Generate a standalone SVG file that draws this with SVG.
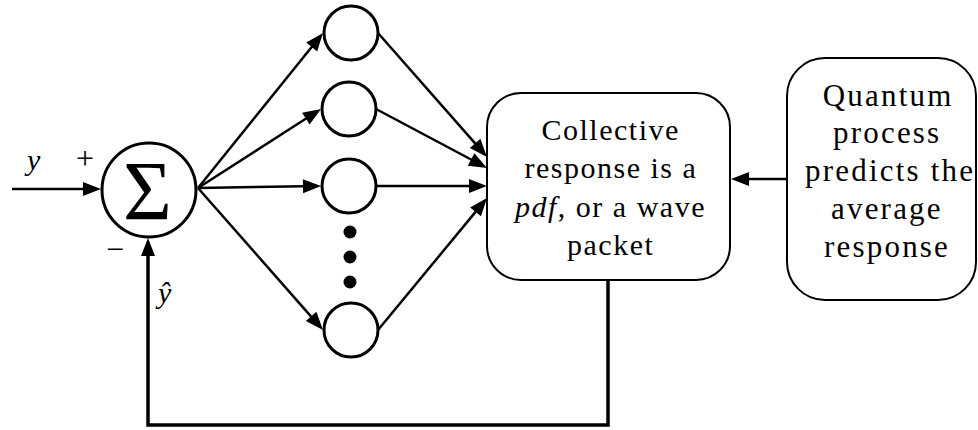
<svg xmlns="http://www.w3.org/2000/svg" width="978" height="430" viewBox="0 0 978 430">
  <rect width="978" height="430" fill="#fff"/>

  <!-- connectors: shafts, then filled arrowheads -->
  <g id="connectors">
    <g fill="none" stroke="#000" stroke-width="2.5">
      <!-- input y into summing junction -->
      <line x1="12" y1="189" x2="84" y2="189"/>
      <!-- summing junction fan-out to hidden units -->
      <line x1="198" y1="188" x2="312.5" y2="46"/>
      <line x1="198" y1="188" x2="306.5" y2="118.3"/>
      <line x1="198" y1="188" x2="304" y2="186.3"/>
      <line x1="198" y1="188" x2="311.8" y2="317.3"/>
      <!-- hidden units into the collective response -->
      <line x1="378" y1="33" x2="475.8" y2="144.2"/>
      <line x1="376" y1="109" x2="472" y2="160"/>
      <line x1="376" y1="186" x2="470" y2="186"/>
      <line x1="378" y1="330" x2="476.2" y2="211.1"/>
      <!-- quantum process feeding the collective response -->
      <line x1="787" y1="179" x2="748" y2="179"/>
      <!-- feedback of the estimate y-hat -->
      <polyline points="608,280 608,425 148,425 148,255" stroke-width="3.5"/>
    </g>
    <g fill="#000">
      <polygon points="101,189 83,182 83,196"/>
      <polygon points="323,33 317.15,51.4 306.25,42.6"/>
      <polygon points="321,109 309.63,124.62 302.07,112.84"/>
      <polygon points="321,186 303.11,193.29 302.89,179.29"/>
      <polygon points="323,330 305.86,321.11 316.36,311.87"/>
      <polygon points="487,157 469.86,148.1 480.38,138.86"/>
      <polygon points="487,168 467.82,165.73 474.4,153.37"/>
      <polygon points="487,186 469,179 469,193"/>
      <polygon points="487,198 480.94,216.34 470.14,207.42"/>
      <polygon points="731,179 749,172 749,186"/>
      <polygon points="148,238 141,256 155,256"/>
    </g>
  </g>

  <!-- summing junction -->
  <g id="sum">
    <circle cx="149" cy="190" r="47" fill="#fff" stroke="#000" stroke-width="3"/>
    <text x="123" y="220" font-family="Liberation Serif" font-size="84">Σ</text>
  </g>

  <!-- signal labels -->
  <g id="labels">
    <text x="27" y="170" font-family="Liberation Serif" font-size="30" font-style="italic">y</text>
    <text x="76" y="169" font-family="Liberation Serif" font-size="32">+</text>
    <text x="106" y="260" font-family="Liberation Serif" font-size="32">−</text>
    <text x="158" y="303" font-family="Liberation Serif" font-size="30" font-style="italic">ŷ</text>
  </g>

  <!-- hidden units -->
  <g id="unit1"><circle cx="351" cy="33" r="27" fill="#fff" stroke="#000" stroke-width="3"/></g>
  <g id="unit2"><circle cx="349" cy="109" r="27" fill="#fff" stroke="#000" stroke-width="3"/></g>
  <g id="unit3"><circle cx="349" cy="186" r="27" fill="#fff" stroke="#000" stroke-width="3"/></g>
  <g id="ellipsis" fill="#000">
    <circle cx="350" cy="232" r="6.5"/>
    <circle cx="350" cy="257" r="6.5"/>
    <circle cx="350" cy="282" r="6.5"/>
  </g>
  <g id="unitN"><circle cx="351" cy="330" r="27" fill="#fff" stroke="#000" stroke-width="3"/></g>

  <!-- collective response -->
  <g id="collective">
    <rect x="487" y="93" width="243" height="187" rx="34" fill="#fff" stroke="#000" stroke-width="2"/>
    <text x="541.5" y="140" font-family="Liberation Serif" font-size="30" letter-spacing="1.5">Collective</text>
    <text x="524.5" y="178" font-family="Liberation Serif" font-size="30" letter-spacing="1.5">response is a</text>
    <text x="515" y="217" font-family="Liberation Serif" font-size="30" letter-spacing="1.5"><tspan font-style="italic">pdf</tspan>, or a wave</text>
    <text x="567" y="255" font-family="Liberation Serif" font-size="30" letter-spacing="1.5">packet</text>
  </g>

  <!-- quantum process -->
  <g id="quantum">
    <rect x="787" y="58" width="189" height="242" rx="38" fill="#fff" stroke="#000" stroke-width="2"/>
    <text x="822.7" y="106" font-family="Liberation Serif" font-size="31" letter-spacing="2.2">Quantum</text>
    <text x="833" y="143" font-family="Liberation Serif" font-size="31" letter-spacing="2.2">process</text>
    <text x="805" y="181" font-family="Liberation Serif" font-size="31" letter-spacing="2.2">predicts the</text>
    <text x="831" y="219" font-family="Liberation Serif" font-size="31" letter-spacing="2.2">average</text>
    <text x="824" y="257" font-family="Liberation Serif" font-size="31" letter-spacing="2.2">response</text>
  </g>
</svg>
